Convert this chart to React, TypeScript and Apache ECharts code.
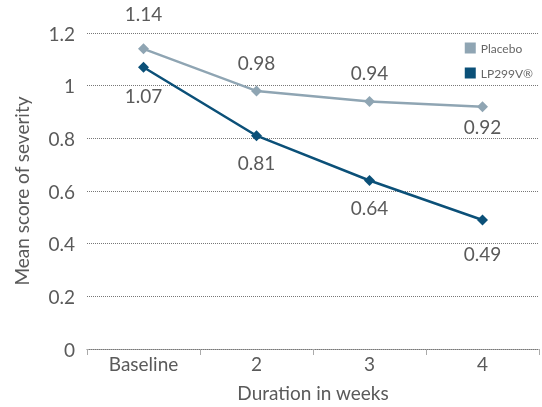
import React, { useEffect, useRef } from "react";
import * as echarts from "echarts";

const categories = ["Baseline", "2", "3", "4"];
const placebo = [1.14, 0.98, 0.94, 0.92];
const lp299v = [1.07, 0.81, 0.64, 0.49];
const placeboLabelPos = ["top", "top", "top", "bottom"];
const lpLabelPos = ["bottom", "bottom", "bottom", "bottom"];
// label spacing (style, not data)
const placeboLabelDist = [20, 13, 14, 5];
const lpLabelDist = [13, 12, 12, 19];

const FONT = "Lato, 'Noto Sans', sans-serif";
const TXT = "#5a5a5a";

export default function App() {
  const ref = useRef<HTMLDivElement>(null);
  useEffect(() => {
    const chart = echarts.init(ref.current!, null, { renderer: "svg" });
    const mk = (vals: number[], pos: string[], dist: number[]) =>
      vals.map((v, i) => ({
        value: v,
        label: { position: pos[i], distance: dist[i] },
      }));
    chart.setOption({
      animation: false,
      textStyle: { fontFamily: FONT },
      grid: { left: 87, right: 3, top: 33, bottom: 53 },
      legend: {
        right: 4,
        top: 37,
        orient: "vertical",
        itemWidth: 11,
        itemHeight: 11,
        itemGap: 13,
        icon: "rect",
        textStyle: { fontSize: 12, color: "#666", fontFamily: FONT },
        data: ["Placebo", "LP299V®"],
      },
      xAxis: {
        type: "category",
        data: categories,
        boundaryGap: true,
        name: "Duration in weeks",
        nameLocation: "middle",
        nameGap: 34,
        nameTextStyle: { fontSize: 19, color: TXT, fontFamily: FONT },
        axisLine: { lineStyle: { color: "#777", type: "dotted", width: 1 } },
        axisTick: { show: true, length: 6, lineStyle: { color: "#aaa" } },
        axisLabel: { fontSize: 19, color: TXT, margin: 5, fontFamily: FONT },
      },
      yAxis: {
        type: "value",
        min: 0,
        max: 1.2,
        interval: 0.2,
        name: "Mean score of severity",
        nameLocation: "middle",
        nameGap: 56,
        nameTextStyle: { fontSize: 19, color: TXT, fontFamily: FONT },
        axisLine: { show: false },
        axisTick: { show: false },
        axisLabel: {
          fontSize: 19,
          color: TXT,
          margin: 12,
          fontFamily: FONT,
          formatter: (v: number) => String(Math.round(v * 10) / 10),
        },
        splitLine: { lineStyle: { color: "#777", type: "dotted", width: 1 } },
      },
      series: [
        {
          name: "Placebo",
          type: "line",
          data: mk(placebo, placeboLabelPos, placeboLabelDist),
          symbol: "diamond",
          symbolSize: 11,
          itemStyle: { color: "#8fa5b3" },
          lineStyle: { color: "#8fa5b3", width: 2.5 },
          label: {
            show: true,
            fontSize: 19,
            color: TXT,
            fontFamily: FONT,
          },
        },
        {
          name: "LP299V®",
          type: "line",
          data: mk(lp299v, lpLabelPos, lpLabelDist),
          symbol: "diamond",
          symbolSize: 11,
          itemStyle: { color: "#0b5078" },
          lineStyle: { color: "#0b5078", width: 2.5 },
          label: {
            show: true,
            fontSize: 19,
            color: TXT,
            fontFamily: FONT,
          },
        },
      ],
    });
    return () => chart.dispose();
  }, []);
  return (
    <div
      ref={ref}
      style={{ position: "fixed", left: 0, top: 0, width: 542, height: 407 }}
    />
  );
}
